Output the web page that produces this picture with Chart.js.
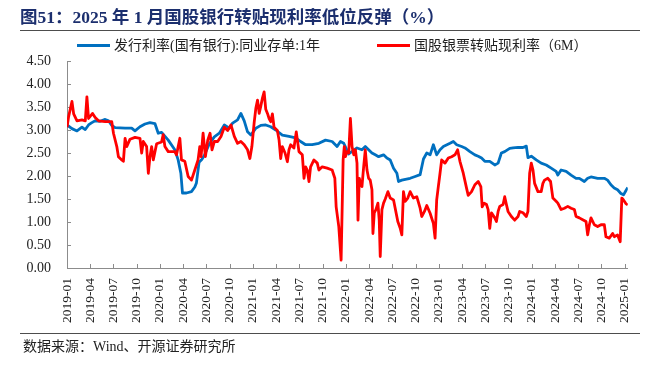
<!DOCTYPE html>
<html>
<head>
<meta charset="utf-8">
<script src="https://cdn.jsdelivr.net/npm/chart.js@4.4.0/dist/chart.umd.min.js"></script>
<style>
  html, body { margin: 0; padding: 0; background: #fff; }
  #wrap { position: relative; width: 651px; height: 365px; overflow: hidden; }
  #chart { position: absolute; left: 0; top: 0; }
  .title { position: absolute; left: 20px; top: 7px; font: bold 17.5px "Liberation Serif", "Noto Sans CJK SC", serif; color: #1c2f6e; white-space: nowrap; line-height: 20px; }
  .rule { position: absolute; left: 20px; width: 620px; height: 1px; background: #4d4d4d; }
  .legend { position: absolute; top: 38px; font: 14px "Liberation Serif", "Noto Sans CJK SC", serif; color: #222; white-space: nowrap; line-height: 16px; }
  .legend i { display: inline-block; width: 33px; height: 3px; vertical-align: middle; margin-right: 4px; position: relative; top: -1px; }
  .source { position: absolute; left: 23px; top: 339px; font: 14px "Liberation Serif", "Noto Sans CJK SC", serif; color: #222; white-space: nowrap; line-height: 16px; }
</style>
</head>
<body>
<div id="wrap">
  <canvas id="chart" width="651" height="365"></canvas>
  <div class="title">图51：2025 年 1 月国股银行转贴现利率低位反弹（%）</div>
  <div class="rule" style="top:30px"></div>
  <div class="legend" style="left:77px"><i style="background:#0070c0"></i>发行利率(国有银行):同业存单:1年</div>
  <div class="legend" style="left:377px"><i style="background:#ff0000"></i>国股银票转贴现利率（6M）</div>
  <div class="rule" style="top:333px"></div>
  <div class="source">数据来源：Wind、开源证券研究所</div>
</div>
<script>
  // x values are months since 2019-01 (fractional)
  const tickLabels = [
    "2019-01", "2019-04", "2019-07", "2019-10", "2020-01", "2020-04", "2020-07", "2020-10",
    "2021-01", "2021-04", "2021-07", "2021-10", "2022-01", "2022-04", "2022-07", "2022-10",
    "2023-01", "2023-04", "2023-07", "2023-10", "2024-01", "2024-04", "2024-07", "2024-10", "2025-01",
  ];
  const yTicks = [0, 0.5, 1, 1.5, 2, 2.5, 3, 3.5, 4, 4.5];

  // 发行利率(国有银行):同业存单:1年
  const blueMonths = [
    0, 0.64, 1.29, 1.93, 2.36, 2.78, 3.21, 3.64, 4.28, 4.93, 5.36, 5.78, 6.21, 7.5, 8.35, 8.78,
    9.42, 10.07, 10.71, 11.35, 11.78, 12.21, 13.07, 13.92, 14.35, 14.7, 14.91, 15.42, 16.07, 16.5,
    16.71, 17.05, 17.4, 17.74, 18.38, 19.02, 19.67, 20.31, 20.95, 21.38, 22.02, 22.45, 22.88, 23.31,
    23.74, 24.38, 25.02, 25.66, 26.3, 26.95, 27.8, 28.66, 29.52, 30.16, 30.81, 31.66, 32.52, 33.38,
    34.23, 34.87, 35.3, 35.73, 36.37, 37.44, 38.08, 38.51, 39.37, 39.8, 40.23, 40.87, 41.3, 41.73,
    42.16, 42.59, 42.8, 43.23, 44.3, 44.95, 45.59, 46.02, 46.45, 46.88, 47.3, 47.73, 48.16, 48.59,
    49.45, 49.88, 50.31, 50.95, 51.38, 52.02, 52.66, 53.09, 53.52, 53.94, 54.58, 55.23, 55.66, 56.08,
    56.51, 57.16, 57.59, 58.23, 58.87, 59.3, 59.51, 59.94, 60.58, 61.22, 61.87, 62.51, 63.15, 63.37,
    63.79, 64.44, 65.08, 65.72, 66.15, 66.79, 67.22, 67.65, 68.51, 69.37, 69.79, 70.22, 70.65, 71.08,
    71.51, 71.85, 72.15, 72.4,
  ];
  const blueRates = [
    3.11, 3.03, 2.98, 3.06, 3.01, 3.11, 3.16, 3.2, 3.19, 3.23, 3.2, 3.1, 3.05, 3.04, 3.04, 2.98,
    3.07, 3.13, 3.16, 3.14, 2.93, 2.95, 2.78, 2.57, 2.35, 2.06, 1.63, 1.63, 1.66, 1.76,
    1.85, 2.3, 2.36, 2.45, 2.7, 2.85, 2.93, 3.11, 3.04, 3.15, 3.22, 3.36, 3.2, 2.96,
    2.89, 3.04, 3.1, 3.11, 3.07, 3.0, 2.89, 2.86, 2.83, 2.75, 2.68, 2.68, 2.71, 2.78,
    2.75, 2.64, 2.75, 2.71, 2.48, 2.61, 2.57, 2.64, 2.5, 2.46, 2.42, 2.46, 2.39, 2.35,
    2.17, 2.06, 1.88, 1.91, 1.95, 1.99, 2.03, 2.37, 2.5, 2.46, 2.68, 2.46, 2.57, 2.64,
    2.71, 2.75, 2.68, 2.64, 2.61, 2.53, 2.46, 2.43, 2.39, 2.32, 2.32, 2.24, 2.28, 2.5,
    2.53, 2.6, 2.61, 2.62, 2.62, 2.65, 2.4, 2.43, 2.35, 2.28, 2.24, 2.17, 2.1, 2.02,
    2.13, 2.1, 2.02, 1.95, 1.95, 1.88, 1.95, 1.98, 1.95, 1.95, 1.91, 1.81, 1.74, 1.7,
    1.62, 1.59, 1.68, 1.75,
  ];

  // 国股银票转贴现利率（6M）
  const redMonths = [
    0, 0.21, 0.64, 0.86, 1.29, 1.93, 2.36, 2.57, 2.78, 3.3, 3.64, 4.07, 4.93, 5.78, 6.0, 6.43,
    6.64, 7.07, 7.28, 7.5, 7.71, 8.14, 8.78, 9.42, 9.64, 9.85, 10.28, 10.5, 10.71, 10.93, 11.14,
    11.57, 12.21, 12.42, 12.64, 13.07, 13.92, 14.14, 14.57, 14.78, 15.21, 15.64, 16.07, 16.5, 16.92,
    17.14, 17.31, 17.57, 17.87, 18.17, 18.47, 18.72, 19.02, 19.45, 19.88, 20.31, 20.74, 21.17, 21.6,
    22.02, 22.45, 22.88, 23.31, 23.61, 23.87, 24.17, 24.38, 24.6, 24.81, 25.02, 25.24, 25.45, 25.66,
    25.88, 26.09, 26.3, 26.52, 26.73, 27.16, 27.38, 27.59, 27.8, 28.15, 28.45, 28.66, 28.88, 29.3,
    29.6, 29.95, 30.38, 30.6, 30.81, 31.02, 31.24, 31.45, 31.88, 32.31, 32.52, 32.95, 33.59, 34.23,
    34.58, 34.75, 35.09, 35.39, 35.55, 35.65, 35.8, 35.95, 36.16, 36.37, 36.59, 36.8, 37.02, 37.23,
    37.44, 37.57, 37.74, 37.87, 38.08, 38.3, 38.51, 38.73, 38.94, 39.15, 39.37, 39.5, 39.67, 39.88,
    40.14, 40.31, 40.44, 40.66, 40.87, 41.09, 41.43, 41.73, 42.16, 42.37, 42.71, 43.01, 43.23, 43.44,
    43.66, 44.0, 44.3, 44.73, 45.16, 45.59, 45.8, 46.15, 46.45, 46.88, 47.3, 47.52, 47.73, 47.94,
    48.16, 48.37, 48.8, 49.23, 49.66, 50.09, 50.43, 50.73, 51.16, 51.59, 51.8, 52.23, 52.66, 53.09,
    53.43, 53.6, 53.86, 54.16, 54.37, 54.58, 54.8, 55.23, 55.44, 55.66, 55.87, 56.3, 56.51, 56.73,
    56.94, 57.37, 57.8, 58.23, 58.44, 58.87, 59.3, 59.51, 59.73, 59.94, 60.16, 60.37, 60.8, 61.22,
    61.44, 61.65, 62.08, 62.43, 62.73, 63.15, 63.37, 63.79, 64.22, 64.65, 65.08, 65.51, 65.72, 66.15,
    66.58, 67.01, 67.22, 67.44, 67.65, 68.08, 68.51, 68.94, 69.37, 69.58, 70.01, 70.44, 70.65, 71.08,
    71.42, 71.63, 71.76, 72.15, 72.4,
  ];
  const redRates = [
    3.06, 3.29, 3.62, 3.35, 3.2, 3.22, 3.2, 3.72, 3.25, 3.36, 3.27, 3.2, 3.18, 3.18, 2.93, 2.64,
    2.42, 2.35, 2.32, 2.82, 2.64, 2.8, 2.84, 2.82, 2.5, 2.75, 2.64, 2.06, 2.42, 2.64, 2.35,
    2.7, 2.74, 2.9, 2.64, 2.53, 2.53, 2.46, 2.82, 2.35, 2.32, 1.99, 1.91, 2.13, 2.35,
    2.64, 2.42, 2.93, 2.42, 2.78, 2.93, 2.57, 2.75, 2.75, 2.86, 3.06, 2.99, 3.11, 2.86,
    2.71, 2.75, 2.68, 2.57, 2.38, 2.64, 3.17, 3.47, 3.65, 3.36, 3.52, 3.7, 3.83, 3.45,
    3.36, 3.25, 3.18, 3.35, 3.06, 2.99, 2.78, 2.38, 2.64, 2.5, 2.31, 2.57, 2.68, 2.61,
    2.96, 2.53, 2.46, 1.95, 2.2, 2.13, 1.88, 2.2, 2.35, 2.28, 2.13, 2.2, 2.17, 2.13,
    1.95, 1.33, 0.9, 0.17, 1.5, 2.35, 2.64, 2.42, 2.53, 2.5, 3.25, 2.64, 2.46, 2.57,
    2.28, 1.04, 1.95, 1.84, 1.77, 2.2, 2.57, 2.13, 1.95, 1.91, 1.7, 0.75, 1.2, 1.27,
    1.41, 1.04, 0.25, 1.27, 1.41, 1.5, 1.66, 1.52, 1.48, 1.3, 1.01, 0.87, 0.72, 1.66,
    1.45, 1.52, 1.66, 1.52, 1.55, 1.3, 1.12, 1.23, 1.36, 1.19, 0.97, 0.65, 1.48, 1.77,
    2.06, 2.35, 2.28, 2.39, 2.42, 2.46, 2.57, 2.32, 2.06, 1.73, 1.58, 1.66, 1.81, 1.88,
    1.77, 1.33, 1.41, 1.38, 1.27, 0.86, 1.2, 1.09, 1.01, 1.23, 1.34, 1.38, 1.55, 1.38,
    1.23, 1.12, 1.04, 1.12, 1.23, 1.2, 1.12, 1.23, 2.06, 2.28, 2.13, 1.84, 1.66, 1.66,
    1.84, 1.91, 1.95, 1.88, 1.52, 1.45, 1.41, 1.27, 1.3, 1.34, 1.3, 1.27, 1.12, 1.09,
    1.05, 1.01, 0.72, 0.94, 1.09, 0.94, 0.9, 0.94, 0.94, 0.68, 0.65, 0.75, 0.68, 0.72,
    0.57, 1.52, 1.5, 1.4, 1.37,
  ];

  const axisColor = "#8c8c8c";
  const tickFont = { family: "'Liberation Serif', serif", size: 14 };

  const toPoints = (xs, ys) => xs.map((x, i) => ({ x, y: ys[i] }));

  // small tick marks pointing into the plot, like the original
  const innerTicks = {
    id: "innerTicks",
    beforeDatasetsDraw(chart) {
      const { ctx, chartArea, scales } = chart;
      ctx.save();
      ctx.strokeStyle = axisColor;
      ctx.lineWidth = 1;
      ctx.beginPath();
      scales.x.ticks.forEach((t) => {
        const px = Math.round(scales.x.getPixelForValue(t.value)) + 0.5;
        ctx.moveTo(px, chartArea.bottom);
        ctx.lineTo(px, chartArea.bottom - 4);
      });
      scales.y.ticks.forEach((t) => {
        const py = Math.round(scales.y.getPixelForValue(t.value)) + 0.5;
        ctx.moveTo(chartArea.left, py);
        ctx.lineTo(chartArea.left + 4, py);
      });
      ctx.stroke();
      ctx.restore();
    },
  };

  new Chart(document.getElementById("chart"), {
    type: "line",
    data: {
      datasets: [
        {
          label: "发行利率(国有银行):同业存单:1年",
          data: toPoints(blueMonths, blueRates),
          borderColor: "#0070c0",
          borderWidth: 2.8,
          pointRadius: 0,
          borderJoinStyle: "round",
          order: 1,
        },
        {
          label: "国股银票转贴现利率（6M）",
          data: toPoints(redMonths, redRates),
          borderColor: "#ff0000",
          borderWidth: 2.8,
          pointRadius: 0,
          borderJoinStyle: "round",
          order: 0,
        },
      ],
    },
    options: {
      responsive: false,
      animation: false,
      devicePixelRatio: 1,
      layout: { padding: { left: 0, right: 21, top: 61, bottom: 0 } },
      plugins: { legend: { display: false }, tooltip: { enabled: false } },
      scales: {
        x: {
          type: "linear",
          min: 0,
          max: 72.4,
          grid: { display: false, drawTicks: false },
          border: { color: axisColor, width: 1 },
          afterBuildTicks: (scale) => { scale.ticks = tickLabels.map((_, i) => ({ value: i * 3 })); },
          afterFit: (scale) => { scale.height = 97; },
          ticks: {
            autoSkip: false,
            minRotation: 90,
            maxRotation: 90,
            padding: 10,
            color: "#222",
            font: { family: "'Liberation Serif', serif", size: 13.5 },
            callback: (v, i) => tickLabels[i],
          },
        },
        y: {
          min: 0,
          max: 4.5,
          grid: { display: false, drawTicks: false },
          border: { color: axisColor, width: 1 },
          afterBuildTicks: (scale) => { scale.ticks = yTicks.map((v) => ({ value: v })); },
          afterFit: (scale) => { scale.width = 67; },
          ticks: {
            padding: 16,
            color: "#222",
            font: tickFont,
            callback: (v) => Number(v).toFixed(2),
          },
        },
      },
    },
    plugins: [innerTicks],
  });
</script>
</body>
</html>
